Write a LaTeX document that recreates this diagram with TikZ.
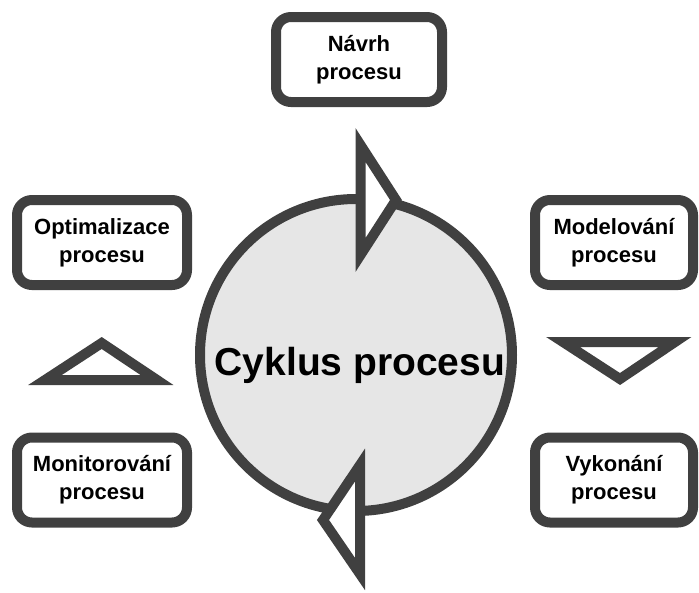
\documentclass[tikz,border=0pt]{standalone}
\usepackage{fontspec}
\setmainfont{Liberation Sans}
\definecolor{linegray}{HTML}{404040}
\definecolor{circlegray}{HTML}{E6E6E6}
\tikzset{
	stagebox/.style={draw=linegray,line width=10pt,rounded corners=15pt,fill=white,
		align=center,inner sep=0pt,minimum height=85pt,
		font=\fontsize{22}{28}\selectfont\bfseries},
	arrowhead/.style={draw=linegray,line width=10pt,fill=white,line join=miter},
}
\begin{document}
\begin{tikzpicture}[x=1pt,y=-1pt]
			\useasboundingbox (0,0) rectangle (699,592);
			\node [circle,draw=linegray,fill=circlegray,line width=10pt,minimum size=312pt,inner sep=0pt] (cyklus) at (356,355) {};
			\node [anchor=base,font=\fontsize{39}{45}\selectfont\bfseries] (nazev) at (360,375) {Cyklus procesu};
			\node [stagebox,minimum width=166pt] (navrh) at (359,59.5) {Návrh\\procesu};
			\node [stagebox,minimum width=158pt] (modelovani) at (614,242.5) {Modelování\\procesu};
			\node [stagebox,minimum width=158pt] (vykonani) at (614,480) {Vykonání\\procesu};
			\node [stagebox,minimum width=170pt] (monitorovani) at (102,480) {Monitorování\\procesu};
			\node [stagebox,minimum width=170pt] (optimalizace) at (102,242.5) {Optimalizace\\procesu};
			\draw [arrowhead] (360.5,145) -- (360.5,255) -- (396,200) -- cycle;
			\draw [arrowhead] (563,342) -- (675,342) -- (620,379) -- cycle;
			\draw [arrowhead] (360,465) -- (360,574) -- (323,520) -- cycle;
			\draw [arrowhead] (101.7,343) -- (45,380) -- (157,380) -- cycle;
		\end{tikzpicture}
\end{document}
